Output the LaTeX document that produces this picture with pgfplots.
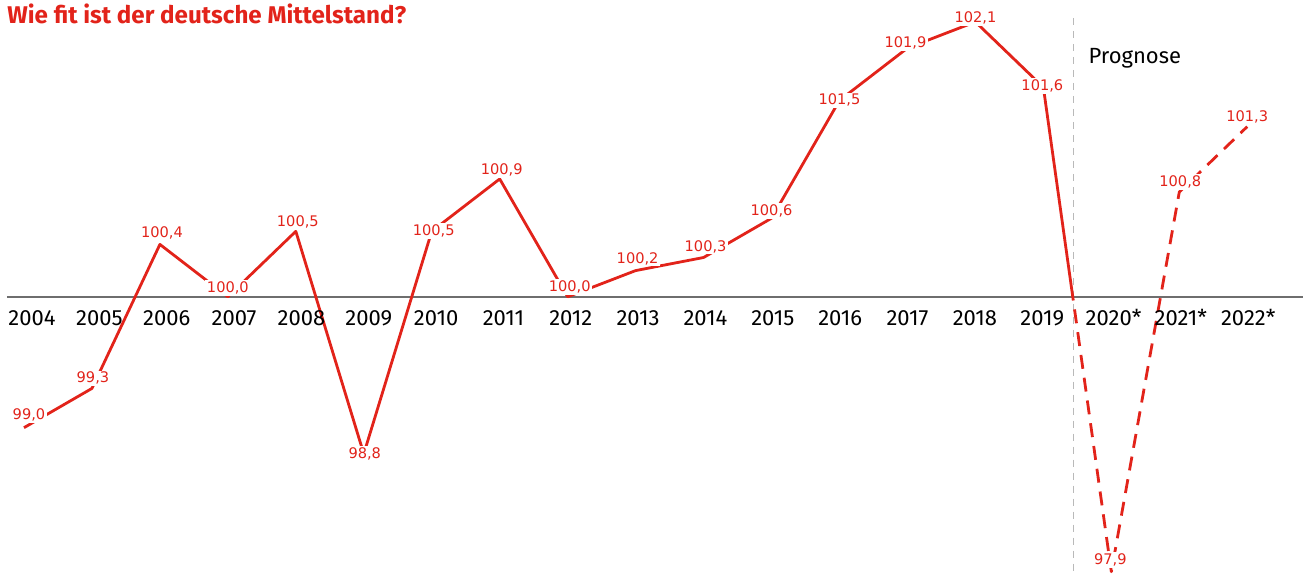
\documentclass[border=0pt]{standalone}
\usepackage{fontspec}
\setmainfont{Fira Sans}
\newfontfamily\valfont{DejaVu Sans}
\usepackage{pgfplots}
\pgfplotsset{compat=1.18}
\definecolor{sred}{RGB}{226,35,26}
\definecolor{basegray}{RGB}{110,110,110}
\definecolor{vgray}{RGB}{185,185,185}
\tikzset{
  val/.style={font=\valfont\fontsize{7.3}{8}\selectfont, text=sred, fill=white, inner sep=0.8pt},
  yr/.style={font=\fontsize{11}{12}\selectfont, anchor=base, inner sep=0pt},
}
\begin{document}
\begin{tikzpicture}
\begin{axis}[
  scale only axis,
  width=652pt, height=287pt,
  xmin=-0.353, xmax=18.824,
  ymin=97.885, ymax=102.267,
  axis line style={draw=none},
  ticks=none,
  clip=false,
]
% baseline
\draw[basegray, line width=0.75pt] (axis cs:-0.25,100) -- (axis cs:18.824,100);
% vertical forecast separator
\draw[vgray, line width=0.75pt, dash pattern=on 3.5pt off 3pt] (axis cs:15.44,102.13) -- (axis cs:15.44,97.885);
% historical series
\addplot[sred, line width=1.4pt, line join=round] coordinates {
 (0,99.0) (1,99.3) (2,100.4) (3,100.0) (4,100.5) (5,98.8) (6,100.5) (7,100.9)
 (8,100.0) (9,100.2) (10,100.3) (11,100.6) (12,101.5) (13,101.9) (14,102.1) (15,101.6)
};
% forecast series (solid until the separator, then dashed)
\addplot[sred, line width=1.4pt, line join=round, dash pattern=on 107.7pt off 4.5pt on 7pt off 4.5pt on 7pt off 4.5pt on 7pt off 4.5pt on 7pt off 4.5pt on 7pt off 4.5pt on 7pt off 4.5pt on 7pt off 4.5pt on 7pt off 4.5pt on 7pt off 4.5pt on 7pt off 4.5pt on 7pt off 4.5pt on 7pt off 4.5pt on 7pt off 4.5pt on 7pt off 4.5pt on 7pt off 4.5pt on 7pt off 4.5pt on 7pt off 4.5pt on 7pt off 4.5pt on 7pt off 4.5pt on 7pt off 4.5pt on 7pt off 4.5pt on 7pt off 4.5pt on 7pt off 4.5pt on 7pt off 4.5pt on 7pt off 4.5pt on 7pt off 4.5pt on 7pt off 4.5pt on 7pt off 4.5pt on 7pt off 4.5pt on 7pt off 4.5pt on 7pt off 4.5pt on 7pt off 4.5pt on 7pt off 4.5pt on 7pt off 4.5pt on 7pt off 4.5pt on 7pt off 4.5pt on 7pt off 4.5pt on 7pt off 4.5pt on 7pt off 4.5pt on 7pt off 4.5pt] coordinates {
 (15,101.6) (16,97.9) (17,100.8) (18,101.3)
};
% value labels
\node[val, xshift=2.5pt, yshift=6.5pt] at (axis cs:0,99.0) {99,0};
\node[val, xshift=0.5pt, yshift=5pt] at (axis cs:1,99.3) {99,3};
\node[val, xshift=1pt, yshift=5.5pt] at (axis cs:2,100.4) {100,4};
\node[val, xshift=0pt, yshift=4.5pt] at (axis cs:3,100.0) {100,0};
\node[val, xshift=1pt, yshift=4.5pt] at (axis cs:4,100.5) {100,5};
\node[val, xshift=0.5pt, yshift=0pt] at (axis cs:5,98.8) {98,8};
\node[val, xshift=1pt, yshift=0pt] at (axis cs:6,100.5) {100,5};
\node[val, xshift=1pt, yshift=4.5pt] at (axis cs:7,100.9) {100,9};
\node[val, xshift=1pt, yshift=5pt] at (axis cs:8,100.0) {100,0};
\node[val, xshift=1pt, yshift=6pt] at (axis cs:9,100.2) {100,2};
\node[val, xshift=1pt, yshift=5.5pt] at (axis cs:10,100.3) {100,3};
\node[val, xshift=0pt, yshift=3.5pt] at (axis cs:11,100.6) {100,6};
\node[val, xshift=0pt, yshift=0pt] at (axis cs:12,101.5) {101,5};
\node[val, xshift=-1pt, yshift=2.5pt] at (axis cs:13,101.9) {101,9};
\node[val, xshift=0pt, yshift=2pt] at (axis cs:14,102.1) {102,1};
\node[val, xshift=-0.5pt, yshift=0.5pt] at (axis cs:15,101.6) {101,6};
\node[val, xshift=-0.5pt, yshift=6pt] at (axis cs:16,97.9) {97,9};
\node[val, xshift=0.5pt, yshift=5pt] at (axis cs:17,100.8) {100,8};
\node[val, xshift=0pt, yshift=5pt] at (axis cs:18,101.3) {101,3};
% year labels
\node[yr, yshift=-14.5pt] at (axis cs:0.118,100) {2004};
\node[yr, yshift=-14.5pt] at (axis cs:1.109,100) {2005};
\node[yr, yshift=-14.5pt] at (axis cs:2.100,100) {2006};
\node[yr, yshift=-14.5pt] at (axis cs:3.091,100) {2007};
\node[yr, yshift=-14.5pt] at (axis cs:4.082,100) {2008};
\node[yr, yshift=-14.5pt] at (axis cs:5.073,100) {2009};
\node[yr, yshift=-14.5pt] at (axis cs:6.064,100) {2010};
\node[yr, yshift=-14.5pt] at (axis cs:7.055,100) {2011};
\node[yr, yshift=-14.5pt] at (axis cs:8.046,100) {2012};
\node[yr, yshift=-14.5pt] at (axis cs:9.037,100) {2013};
\node[yr, yshift=-14.5pt] at (axis cs:10.028,100) {2014};
\node[yr, yshift=-14.5pt] at (axis cs:11.019,100) {2015};
\node[yr, yshift=-14.5pt] at (axis cs:12.010,100) {2016};
\node[yr, yshift=-14.5pt] at (axis cs:13.001,100) {2017};
\node[yr, yshift=-14.5pt] at (axis cs:13.992,100) {2018};
\node[yr, yshift=-14.5pt] at (axis cs:14.983,100) {2019};
\node[yr, yshift=-14.5pt, xshift=2pt] at (axis cs:15.974,100) {2020*};
\node[yr, yshift=-14.5pt, xshift=2pt] at (axis cs:16.965,100) {2021*};
\node[yr, yshift=-14.5pt, xshift=2pt] at (axis cs:17.956,100) {2022*};
% Prognose
\node[anchor=base west, inner sep=0pt, font=\fontsize{11}{12}\selectfont] at (axis cs:15.66,101.78) {Prognose};
% title
\node[anchor=base west, inner sep=0pt, text=sred, font=\bfseries\fontsize{12.1}{14}\selectfont, xshift=3.5pt, yshift=-12pt] at (rel axis cs:0,1) {Wie fit ist der deutsche Mittelstand?};
\end{axis}
\end{tikzpicture}
\end{document}
